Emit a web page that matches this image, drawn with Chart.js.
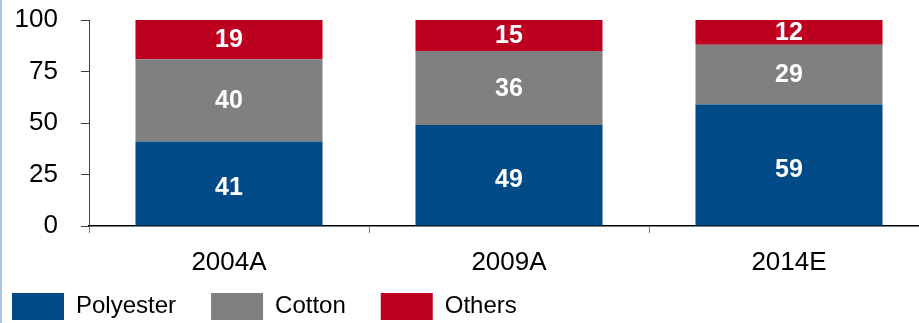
<!DOCTYPE html>
<html>
<head>
<meta charset="utf-8">
<script src="https://cdn.jsdelivr.net/npm/chart.js@4/dist/chart.umd.min.js"></script>
<style>
  html, body { margin: 0; padding: 0; background: #fff; overflow: hidden; }
  #wrap { position: relative; width: 919px; height: 323px; overflow: hidden; }
  #edge { position: absolute; left: 0; top: 0; width: 2px; height: 323px; background: #a9c6df; z-index: 2; }
  canvas { position: absolute; left: 0; top: 0; }
</style>
</head>
<body>
<div id="wrap">
  <div id="edge"></div>
  <canvas id="c" width="930" height="323"></canvas>
</div>
<script>
const categories = ["2004A", "2009A", "2014E"];
const polyester = [41, 49, 59];
const cotton = [40, 36, 29];
const others = [19, 15, 12];
const yTicks = [0, 25, 50, 75, 100];

const FONT = '"Liberation Sans", Arial, sans-serif';
const labelOffsets = [4, 0, 0];

const labelPlugin = {
  id: 'segLabels',
  afterDatasetsDraw(chart) {
    const ctx = chart.ctx;
    ctx.save();
    ctx.fillStyle = '#ffffff';
    ctx.font = 'bold 25px ' + FONT;
    ctx.textAlign = 'center';
    ctx.textBaseline = 'middle';
    chart.data.datasets.forEach((ds, di) => {
      const meta = chart.getDatasetMeta(di);
      meta.data.forEach((bar, i) => {
        const y = (bar.y + bar.base) / 2 + 1 + labelOffsets[di];
        ctx.fillText(String(ds.data[i]), bar.x, y);
      });
    });
    ctx.restore();
  }
};

const legendShift = {
  id: 'legendShift',
  afterLayout(chart) {
    const lg = chart.legend;
    if (!lg) return;
    const pad = lg.options.labels.padding;
    lg.left = 12 - pad;
    lg.top = 293 - pad;
  }
};

new Chart(document.getElementById('c'), {
  type: 'bar',
  data: {
    labels: categories,
    datasets: [
      { label: 'Polyester', data: polyester, backgroundColor: '#004a88' },
      { label: 'Cotton', data: cotton, backgroundColor: '#808080' },
      { label: 'Others', data: others, backgroundColor: '#be0020' }
    ]
  },
  options: {
    responsive: false,
    devicePixelRatio: 1,
    animation: false,
    categoryPercentage: 1,
    barPercentage: 0.668,
    layout: { padding: { left: 15, top: 20, right: 1, bottom: -28 } },
    scales: {
      x: {
        stacked: true,
        grid: { drawOnChartArea: false, drawTicks: true, tickLength: 7, color: '#808080', offset: true },
        border: { display: true, color: '#000000', width: 1.5 },
        ticks: { color: '#000000', font: { family: FONT, size: 26 }, padding: 14, maxRotation: 0, autoSkip: false },
        afterFit(scale) { scale.height = 53; }
      },
      y: {
        stacked: true,
        min: 0,
        max: 100,
        afterBuildTicks(scale) { scale.ticks = yTicks.map(v => ({ value: v })); },
        grid: { drawOnChartArea: false, drawTicks: true, tickLength: 8, color: '#404040' },
        border: { display: true, color: '#404040', width: 1 },
        ticks: { color: '#000000', font: { family: FONT, size: 26 }, padding: 23 },
        afterFit(scale) { scale.width = 74; scale.paddingTop = 0; scale.paddingBottom = 0; }
      }
    },
    plugins: {
      tooltip: { enabled: false },
      legend: {
        position: 'bottom',
        align: 'start',
        labels: {
          boxWidth: 52,
          boxHeight: 27,
          padding: 35,
          color: '#000000',
          font: { family: FONT, size: 24 }
        }
      }
    }
  },
  plugins: [labelPlugin, legendShift]
});
</script>
</body>
</html>
